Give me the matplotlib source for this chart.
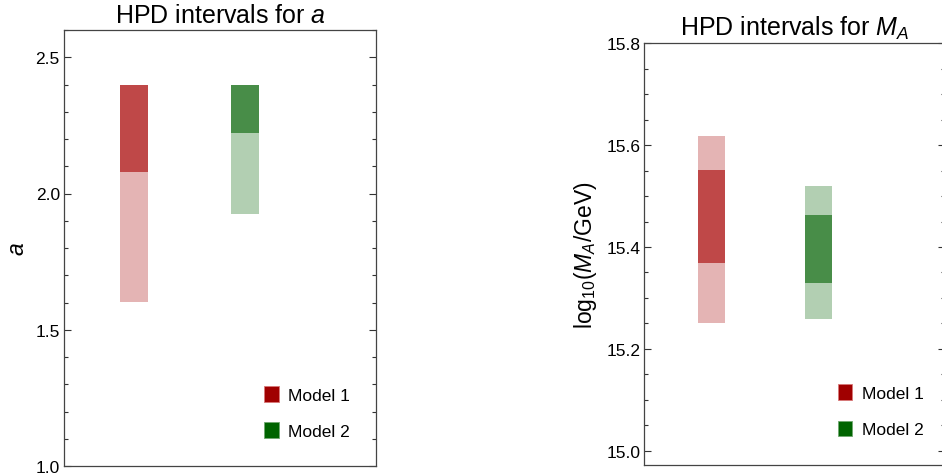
import matplotlib
matplotlib.use("Agg")
import matplotlib.pyplot as plt
from matplotlib.patches import Patch

plt.rcParams['font.family'] = ['Liberation Sans', 'DejaVu Sans']
plt.rcParams['mathtext.fontset'] = 'custom'
plt.rcParams['mathtext.rm'] = 'Liberation Sans'
plt.rcParams['mathtext.it'] = 'Liberation Sans:italic'

# HPD intervals: (68% low, 68% high), (95% low, 95% high)
models = ['Model 1', 'Model 2']
a_68 = [(2.08, 2.40), (2.222, 2.40)]
a_95 = [(1.603, 2.40), (1.926, 2.40)]
ma_68 = [(15.369, 15.552), (15.330, 15.462)]
ma_95 = [(15.250, 15.618), (15.259, 15.520)]

dark = ['#BF4848', '#488D48']
light = ['#E4B4B4', '#B2CFB2']
legend_col = ['#A00000', '#006400']
legend_edge = ['#D87878', '#70A870']

W, H = 942, 477
fig = plt.figure(figsize=(W / 100, H / 100), dpi=100)


def px_axes(x0, x1, ytop, ybot):
    return fig.add_axes([x0 / W, (H - ybot) / H, (x1 - x0) / W, (ybot - ytop) / H])


def draw(ax, i68, i95, ylim, major, minor, title, ylabel, leg_xy):
    pos = [1, 2]
    for k in range(len(models)):
        lo, hi = i95[k]
        ax.bar(pos[k], hi - lo, bottom=lo, width=0.25, color=light[k], linewidth=0)
        lo, hi = i68[k]
        ax.bar(pos[k], hi - lo, bottom=lo, width=0.25, color=dark[k], linewidth=0)
    ax.set_xlim(0.37, 3.18)
    ax.set_ylim(*ylim)
    ax.set_yticks(major)
    ax.set_yticks(minor, minor=True)
    ax.set_xticks([])
    ax.tick_params(axis='y', which='both', direction='in', left=True, right=True,
                   labelsize=12.5, pad=3, color='#333333', width=0.8)
    ax.tick_params(axis='y', which='major', length=5)
    ax.tick_params(axis='y', which='minor', length=3)
    for s in ax.spines.values():
        s.set_color('#444444')
        s.set_linewidth(0.9)
    ax.set_title(title, fontsize=18, pad=6)
    ax.set_ylabel(ylabel, fontsize=16.5, labelpad=5)
    handles = [Patch(facecolor=legend_col[k], edgecolor=legend_edge[k], linewidth=0.6)
               for k in range(len(models))]
    ax.legend(handles, models, loc='upper left', bbox_to_anchor=leg_xy, frameon=False,
              fontsize=12.5, handlelength=0.85, handleheight=1.0, handletextpad=0.55,
              labelspacing=1.12, borderpad=0, borderaxespad=0)


ax1 = px_axes(64, 376, 31, 467)
draw(ax1, a_68, a_95, (1.0, 2.6), [1.0, 1.5, 2.0, 2.5],
     [1.0 + 0.1 * i for i in range(17)],
     'HPD intervals for $a$', '$a$', (0.641, 0.183))
ax1.yaxis.set_major_formatter(matplotlib.ticker.FormatStrFormatter('%.1f'))

ax2 = px_axes(644.3, 945, 44.3, 466)
draw(ax2, ma_68, ma_95, (14.972, 15.8), [15.0, 15.2, 15.4, 15.6, 15.8],
     [15.0 + 0.05 * i for i in range(17)],
     'HPD intervals for $M_A$', r'$\mathrm{log}_{10}(M_A/\mathrm{GeV})$', (0.643, 0.191))
ax2.yaxis.set_major_formatter(matplotlib.ticker.FormatStrFormatter('%.1f'))

fig.savefig('out.png', dpi=100)
